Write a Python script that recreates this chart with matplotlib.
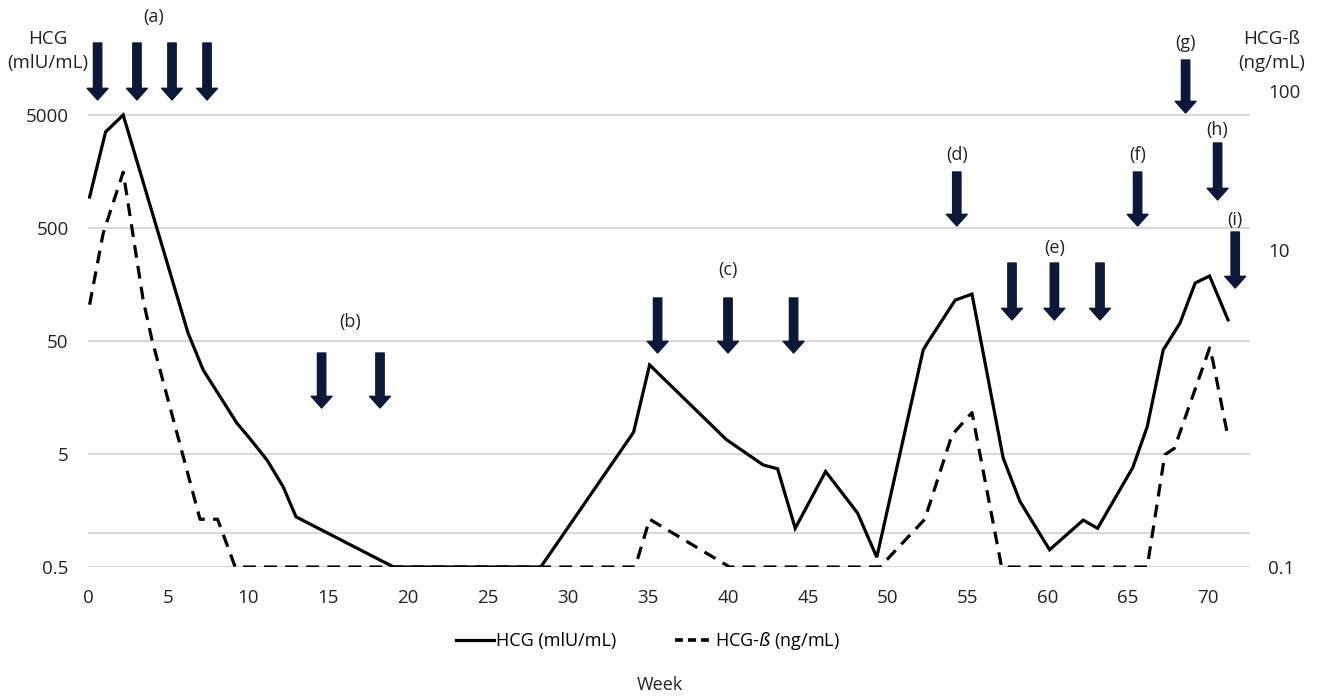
import matplotlib.pyplot as plt

plt.rcParams['font.family'] = ['Open Sans', 'DejaVu Sans']

# HCG (mIU/mL), left log axis
weeks_hcg = [0.1, 1.1, 2.2, 6.25, 7.2, 9.3, 10.1, 11.2, 12.2, 13.0, 19.1, 28.3,
             34.1, 35.1, 39.9, 42.2, 43.1, 44.2, 46.1, 48.1, 49.3,
             52.2, 52.5, 54.2, 55.25, 57.2, 58.25, 60.1, 62.2, 63.1,
             65.3, 66.2, 67.2, 68.25, 69.2, 70.1, 71.25]
hcg = [940, 3540, 5000, 59, 27.7, 9.4, 6.9, 4.4, 2.56, 1.39, 0.5, 0.5,
       7.8, 30.7, 6.7, 4.0, 3.7, 1.1, 3.5, 1.5, 0.61,
       41.7, 49, 115, 130, 4.6, 1.9, 0.71, 1.3, 1.1,
       3.8, 8.7, 41.7, 72, 163, 188, 77]

# HCG-beta (ng/mL), right log axis
weeks_beta = [0.1, 0.95, 2.2, 3.45, 4.0, 5.9, 7.0, 8.1, 9.2, 34.2, 35.1, 40.1,
              49.5, 52.3, 54.0, 55.25, 57.1, 66.2, 67.3, 67.9, 70.1, 70.3, 71.25]
beta = [4.5, 12.7, 30.8, 4.8, 2.7, 0.52, 0.2, 0.2, 0.1, 0.1, 0.2, 0.1,
        0.1, 0.2, 0.68, 0.94, 0.1, 0.1, 0.51, 0.56, 2.4, 2.0, 0.66]

left_ticks = [0.5, 5, 50, 500, 5000]
left_labels = ['0.5', '5', '50', '500', '5000']
right_ticks = [0.1, 10, 100]
right_labels = ['0.1', '10', '100']
x_ticks = list(range(0, 71, 5))

# treatment arrows: label, weeks, (top, tip) in figure pixels, label y, label week
arrow_groups = [
    ('(a)', [0.6, 3.06, 5.25, 7.44], (43, 100), 17, 4.1),
    ('(b)', [14.6, 18.25], (353, 408), 322, 16.4),
    ('(c)', [35.6, 40.0, 44.1], (298, 353), 270, 40.0),
    ('(d)', [54.3], (172, 226), 155, 54.3),
    ('(e)', [57.75, 60.4, 63.25], (263, 320), 248, 60.4),
    ('(f)', [65.6], (172, 226), 155, 65.6),
    ('(g)', [68.6], (60, 113), 43, 68.6),
    ('(h)', [70.6], (143, 200), 130, 70.6),
    ('(i)', [71.7], (232, 288), 220, 71.7),
]

W, H = 1322, 697
fig = plt.figure(figsize=(W / 100, H / 100), dpi=100)
ax = fig.add_axes([88 / W, 1 - 567 / H, (1250 - 88) / W, (567 - 91) / H])
ax2 = ax.twinx()

ax.plot(weeks_hcg, hcg, color='black', lw=2.3, solid_joinstyle='miter')
ax2.plot(weeks_beta, beta, color='black', lw=2.3, dashes=(4, 2.6))

ax.set_yscale('log')
ax2.set_yscale('log')
ax.set_ylim(0.5, 0.5 * 10 ** (476 / 113))
ax2.set_ylim(0.1, 100)
ax.set_xlim(0, (1250 - 88) / 16)

ax.set_yticks(left_ticks)
ax.set_yticklabels(left_labels)
ax.set_yticks([1], minor=True)
ax.yaxis.set_minor_formatter(plt.NullFormatter())
ax2.set_yticks(right_ticks)
ax2.set_yticklabels(right_labels)
ax2.yaxis.set_minor_locator(plt.NullLocator())
ax.set_xticks(x_ticks)

ax.grid(axis='y', which='both', color='#d9d9d9', lw=1.5)
ax.set_axisbelow(True)
for a in (ax, ax2):
    for s in a.spines.values():
        s.set_visible(False)
ax.tick_params(axis='both', which='both', length=0, labelsize=13.5, colors='#222222')
ax.tick_params(axis='y', pad=14)
ax.tick_params(axis='x', pad=16)
ax2.tick_params(axis='y', which='both', length=0, labelsize=13.5, colors='#222222', pad=13)

navy = '#0b1838'
for label, weeks, (top, tip), label_y, label_x in arrow_groups:
    for wk in weeks:
        ax.annotate('', xy=(wk, 1 - tip / H), xytext=(wk, 1 - top / H),
                    xycoords=('data', 'figure fraction'),
                    textcoords=('data', 'figure fraction'),
                    arrowprops=dict(arrowstyle='simple,head_length=0.42,head_width=0.75,tail_width=0.3',
                                    color=navy, mutation_scale=20, shrinkA=0, shrinkB=0),
                    annotation_clip=False)
    ax.annotate(label, xy=(label_x, 1 - label_y / H), xycoords=('data', 'figure fraction'),
                ha='center', va='center', fontsize=13, color='#222222', annotation_clip=False)

fig.text(48 / W, 1 - 51 / H, 'HCG\n(mlU/mL)', ha='center', va='center', fontsize=13.5,
         color='#222222', linespacing=1.45)
fig.text(1272 / W, 1 - 51 / H, 'HCG-ß\n(ng/mL)', ha='center', va='center', fontsize=13.5,
         color='#222222', linespacing=1.45)

h1, = ax.plot([], [], color='black', lw=2.3)
h2, = ax.plot([], [], color='black', lw=2.6, dashes=(2.2, 1.4))
fig.legend([h1, h2], ['HCG (mlU/mL)', 'HCG-$\\it{ß}$ (ng/mL)'], loc='center',
           bbox_to_anchor=(648 / W, 1 - 641 / H), ncol=2, frameon=False, fontsize=13,
           handlelength=2.1, handletextpad=0.1, columnspacing=3.3)
fig.text(660 / W, 1 - 685 / H, 'Week', ha='center', va='center', fontsize=13, color='#222222')

fig.savefig('out.png', dpi=100)
